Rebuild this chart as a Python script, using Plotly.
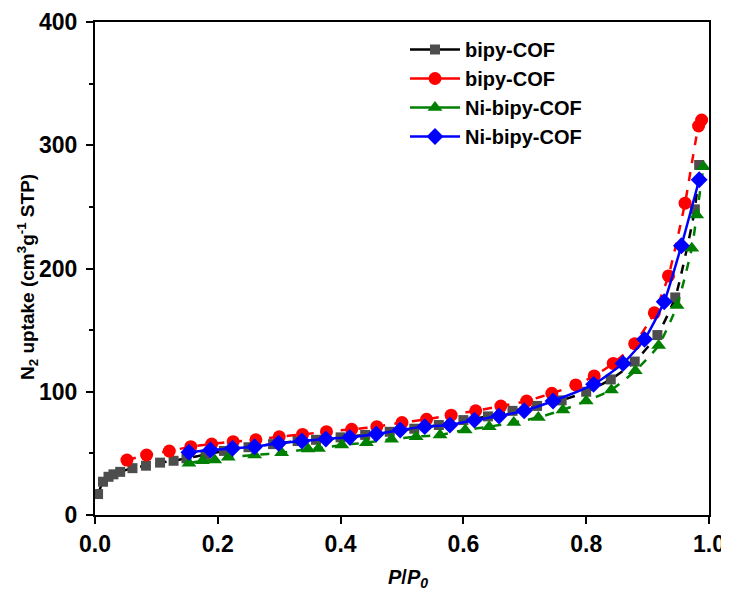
import plotly.graph_objects as go

# bipy-COF (black squares)
bk_x = [0.005, 0.013, 0.022, 0.030, 0.041, 0.061, 0.083, 0.106, 0.128, 0.149, 0.18, 0.21, 0.25,
        0.29, 0.33, 0.36, 0.40, 0.44, 0.48, 0.52, 0.56, 0.60, 0.64, 0.68, 0.72, 0.76, 0.80, 0.84,
        0.879, 0.916, 0.945, 0.977, 0.984]
bk_y = [17, 27, 31, 33, 35, 38, 40, 42.5, 44, 46, 49, 52, 55, 57.5, 60, 61, 63, 65, 67.5, 70, 73,
        77, 80, 84.5, 88.5, 93, 100, 110, 124.5, 146, 176.5, 248, 284]

# bipy-COF (red circles)
rd_x = [0.052, 0.084, 0.121, 0.156, 0.19, 0.225, 0.262, 0.30, 0.338, 0.377, 0.418, 0.459, 0.50,
        0.54, 0.58, 0.62, 0.661, 0.703, 0.744, 0.783, 0.813, 0.844, 0.879, 0.911, 0.934, 0.961,
        0.983, 0.988]
rd_y = [44.6, 48.7, 51.9, 55.4, 57.6, 59.5, 61, 63.5, 65.4, 67.6, 69.5, 71.7, 75, 77.6, 81, 84.6,
        88.4, 92.5, 98.7, 105.5, 112.8, 123, 139, 164, 194, 253, 315.6, 320.5]

# Ni-bipy-COF (green triangles)
gr_x = [0.153, 0.175, 0.195, 0.217, 0.26, 0.304, 0.347, 0.364, 0.402, 0.442, 0.483, 0.523, 0.562,
        0.603, 0.642, 0.682, 0.722, 0.762, 0.80, 0.841, 0.88, 0.918, 0.948, 0.972, 0.98, 0.991]
gr_y = [42, 44, 44.6, 46.8, 48.7, 50.5, 53.5, 54, 56.8, 58.7, 61.4, 63.5, 65, 69, 71.7, 75, 79.2,
        85.2, 92.5, 101.5, 117, 137.5, 170, 216.4, 243.4, 282.6]

# Ni-bipy-COF (blue diamonds)
bl_x = [0.153, 0.188, 0.224, 0.26, 0.299, 0.337, 0.376, 0.415, 0.458, 0.497, 0.537, 0.578, 0.618,
        0.658, 0.699, 0.746, 0.812, 0.860, 0.895, 0.927, 0.955, 0.984]
bl_y = [50.9, 52.7, 54.1, 55.4, 58.2, 60, 61.7, 63, 65.7, 69, 71.7, 73, 77, 80.3, 84.6, 92.5, 106,
        123, 142.5, 173, 218.5, 272]

labels = ["bipy-COF", "bipy-COF", "Ni-bipy-COF", "Ni-bipy-COF"]

x_ticks = [0, 0.2, 0.4, 0.6, 0.8, 1.0]
x_tick_text = ["0.0", "0.2", "0.4", "0.6", "0.8", "1.0"]
y_ticks = [0, 100, 200, 300, 400]
y_tick_text = ["0", "100", "200", "300", "400"]

series = [
    (bk_x, bk_y, "#000000", "#4d4d4d", "square", "dash", 10),
    (rd_x, rd_y, "#ff0000", "#ff0000", "circle", "dash", 13),
    (gr_x, gr_y, "#008000", "#008000", "triangle-up", "dash", 13),
    (bl_x, bl_y, "#0000ff", "#0000ff", "diamond", "solid", 13),
]

fig = go.Figure()
for (xs, ys, lc, mc, sym, dash, ms), name in zip(series, labels):
    fig.add_trace(go.Scatter(
        x=xs, y=ys, mode="lines+markers", showlegend=False,
        line=dict(color=lc, width=2.5, dash=dash, shape="spline", smoothing=0.5),
        marker=dict(symbol=sym, color=mc, size=ms, line=dict(width=0)),
        name=name))
# legend entries (solid lines as in the original legend)
for (xs, ys, lc, mc, sym, dash, ms), name in zip(series, labels):
    fig.add_trace(go.Scatter(
        x=[None], y=[None], mode="lines+markers", name=name,
        line=dict(color=lc, width=2.5),
        marker=dict(symbol=sym, color=mc, size=ms, line=dict(width=0))))

FAM = "Liberation Sans, Arial, sans-serif"
tick_font = dict(family=FAM, size=23, color="black", weight="bold")

# The page body adds an 8 px offset; margins compensate so the plot area
# lands at x 95..709, y 22..515 in the screenshot.
OFF = 8
L, R, T, B = 95 - OFF, 729 - 709 + OFF, 22 - OFF, 592 - 515 + OFF
pw, ph = 729 - L - R, 592 - T - B

fig.update_layout(
    width=729, height=592,
    margin=dict(l=L, r=R, t=T, b=B, autoexpand=False),
    paper_bgcolor="white", plot_bgcolor="white",
    font=dict(family=FAM, size=18, color="black"),
    showlegend=True,
    legend=dict(x=(405 - 95) / pw, y=1.0 - 8 / ph, xanchor="left", yanchor="top",
                bgcolor="rgba(0,0,0,0)", itemwidth=50, tracegroupgap=0,
                font=dict(family=FAM, size=20, color="black", weight="bold")),
    xaxis=dict(range=[0, 1.0], tickvals=x_ticks, ticktext=x_tick_text, tickfont=tick_font,
               automargin=False,
               showgrid=False, zeroline=False, showline=True, linecolor="black", linewidth=2,
               mirror=True, ticks="outside", ticklen=7, tickwidth=2, tickcolor="black"),
    yaxis=dict(range=[0, 400], tickvals=y_ticks, ticktext=y_tick_text, tickfont=tick_font,
               automargin=False, ticklabelstandoff=4,
               showgrid=False, zeroline=False, showline=True, linecolor="black", linewidth=2,
               mirror=True, ticks="outside", ticklen=7, tickwidth=2, tickcolor="black",
               minor=dict(dtick=50, ticks="outside", ticklen=4, tickwidth=2, tickcolor="black", showgrid=False)),
    annotations=[
        dict(text="<i>P</i>/<i>P<sub>0</sub></i>", x=(408 - 95) / pw, y=(515 - 578) / ph,
             xref="paper", yref="paper", xanchor="center", yanchor="middle", showarrow=False,
             font=dict(family=FAM, size=20, color="black", weight="bold")),
        dict(text="N<sub>2</sub> uptake (cm<sup>3</sup>g<sup>-1</sup> STP)", x=(27 - 95) / pw,
             y=(515 - 277) / ph, xref="paper", yref="paper", textangle=-90,
             xanchor="center", yanchor="middle", showarrow=False,
             font=dict(family=FAM, size=19, color="black", weight="bold")),
    ],
)

fig.write_html("out.html")
